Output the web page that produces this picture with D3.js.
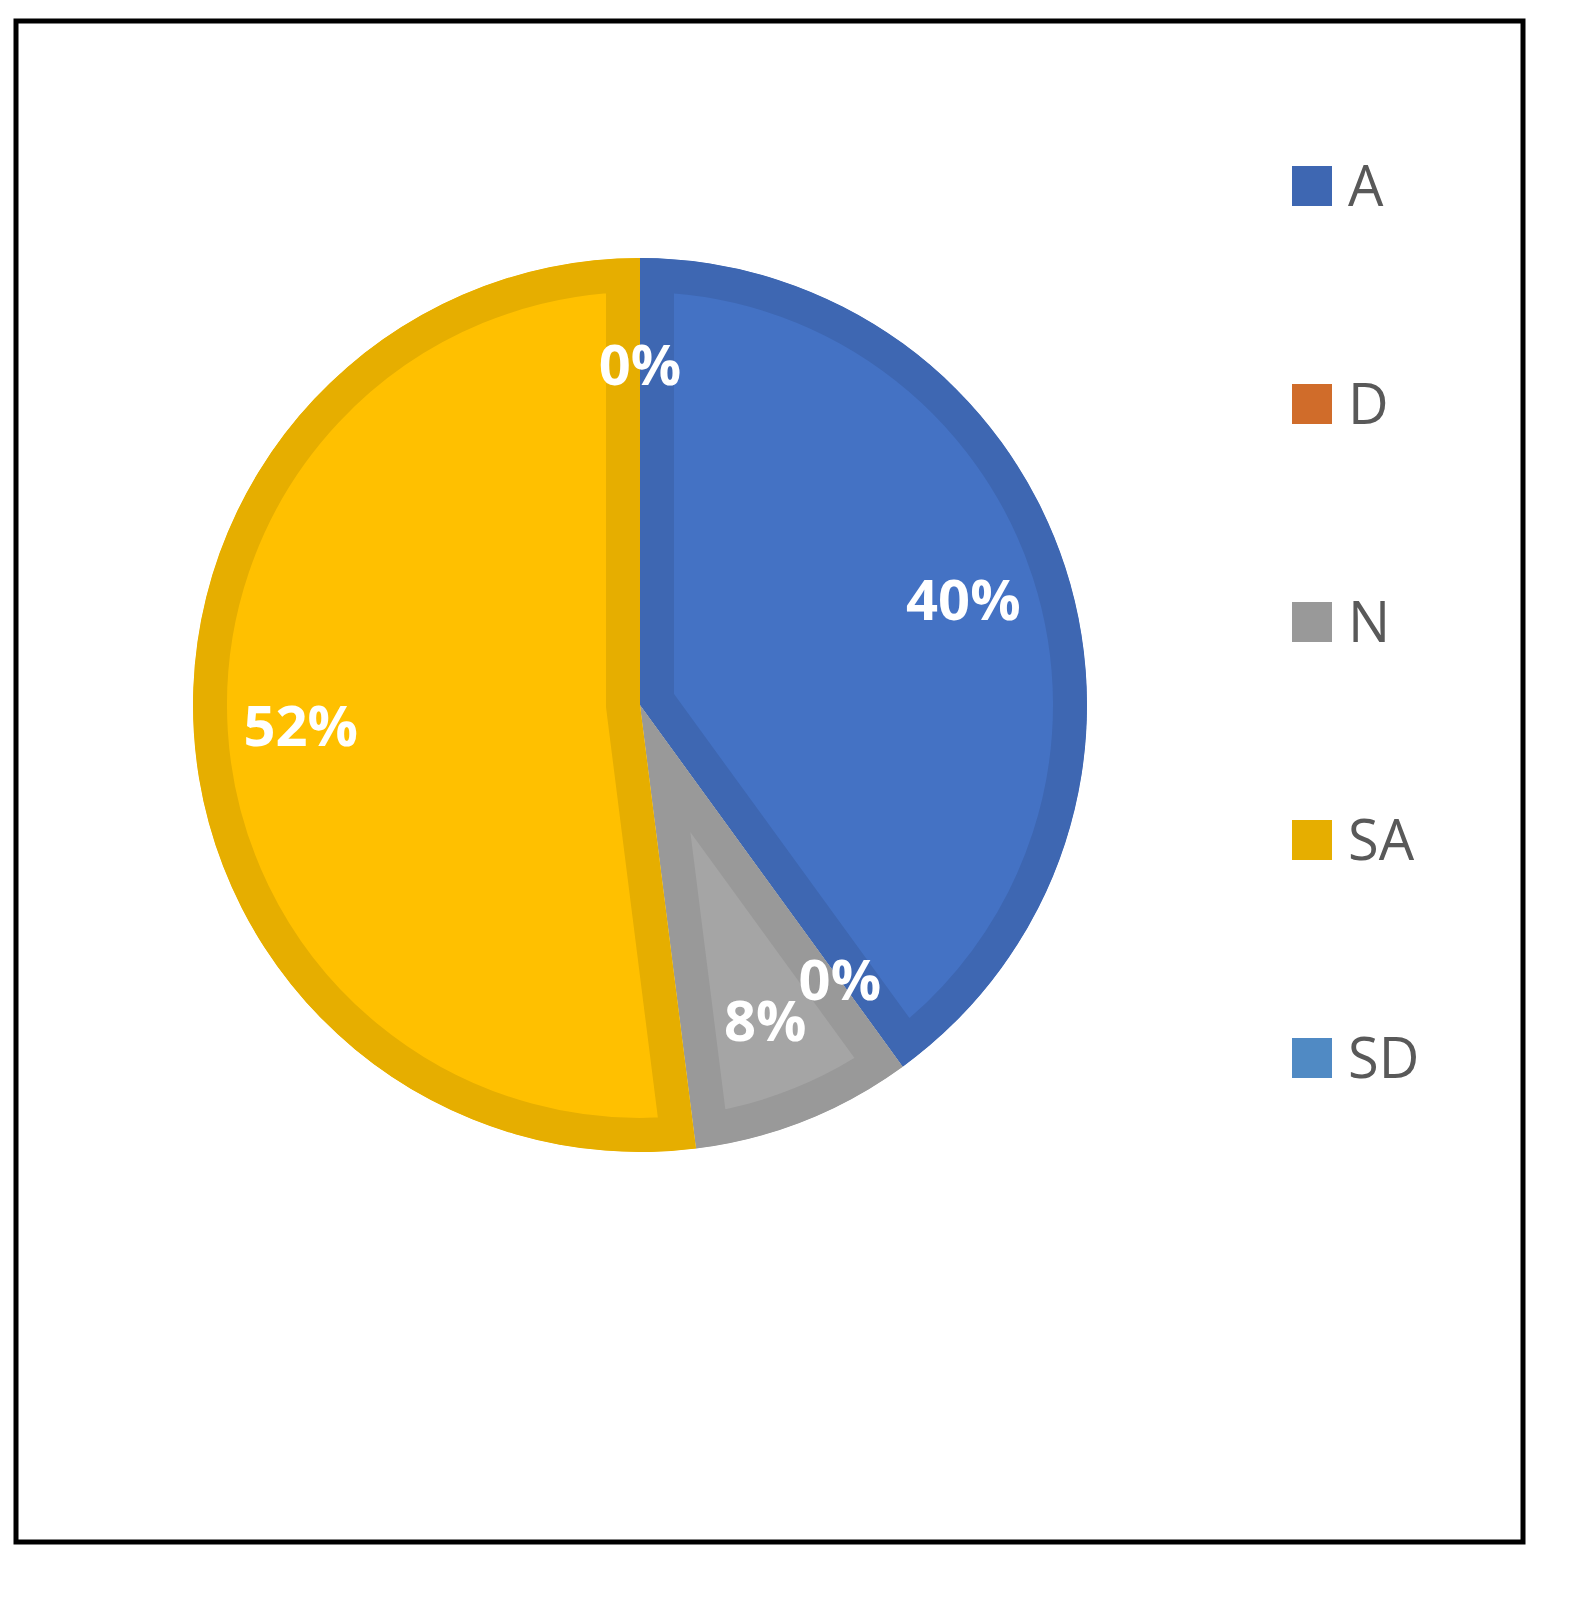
<!DOCTYPE html>
<html><head><meta charset="utf-8">
<script src="https://cdn.jsdelivr.net/npm/d3@7"></script>
<style>body{margin:0;background:#fff}</style></head>
<body><svg id="c" width="1571" height="1599"></svg>
<script>
const categories = ["A","D","N","SA","SD"];
const values = [40,0,8,52,0];
const fills = ["#4472C4","#ED7D31","#A5A5A5","#FFC000","#5B9BD5"];
const borders = ["#3E67B2","#D06C2A","#999999","#E6AE00","#508AC4"];

const svg = d3.select("#c");
svg.append("rect").attr("x",16).attr("y",21).attr("width",1507).attr("height",1521)
  .attr("fill","#fff").attr("stroke","#000").attr("stroke-width",5);

const cx=640, cy=705, R=447;
const pie = d3.pie().sort(null).value(d=>d)(values);
const arc = d3.arc().innerRadius(0).outerRadius(R);
const g = svg.append("g").attr("transform",`translate(${cx},${cy})`);
const defs = svg.append("defs");
pie.forEach((p,i)=>{
  if(p.value===0) return;
  defs.append("clipPath").attr("id","cp"+i).append("path").attr("d",arc(p));
  g.append("path").attr("d",arc(p)).attr("fill",fills[i])
    .attr("stroke",borders[i]).attr("stroke-width",68).attr("stroke-linejoin","miter")
    .attr("clip-path",`url(#cp${i})`);
});
const la = d3.arc().innerRadius(340).outerRadius(340);
pie.forEach((p,i)=>{
  const [x,y]=la.centroid(p);
  g.append("text").attr("x",x).attr("y",y).attr("dy","0.35em").attr("text-anchor","middle")
    .attr("fill","#fff").attr("font-family","Open Sans, Liberation Sans, sans-serif")
    .attr("font-weight","bold").attr("font-size",56).text(Math.round(p.value)+"%");
});
const ly = d3.scalePoint().domain(categories).range([186,1058]);
const lg = svg.append("g");
categories.forEach((c,i)=>{
  lg.append("rect").attr("x",1292).attr("y",ly(c)-20).attr("width",40).attr("height",40).attr("fill",borders[i]);
  lg.append("text").attr("x",1348).attr("y",ly(c)).attr("dy","0.36em").attr("fill","#595959")
    .attr("font-family","Open Sans, Liberation Sans, sans-serif").attr("font-size",56).text(c);
});
</script></body></html>
